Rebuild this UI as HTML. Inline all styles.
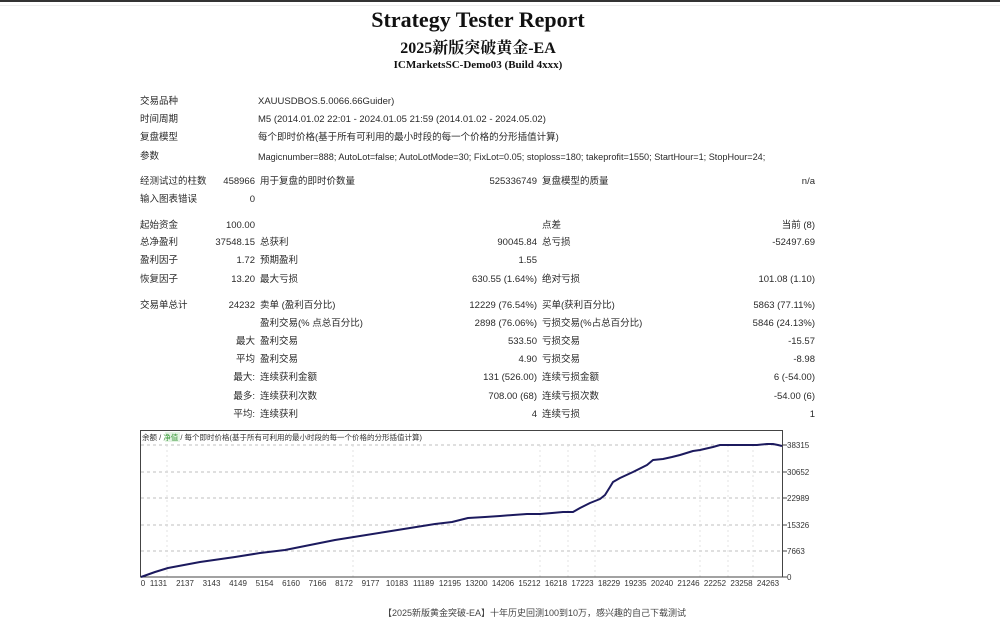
<!DOCTYPE html>
<html><head><meta charset="utf-8">
<style>
html,body{margin:0;padding:0;background:#fff;}
body{width:1000px;height:629px;position:relative;overflow:hidden;font-family:"Liberation Sans","Noto Sans CJK SC",sans-serif;color:#2a2a2a;}
.t{position:absolute;font-size:9.5px;line-height:12px;white-space:nowrap;}
.r{text-align:right;}
.h{position:absolute;left:0;width:956px;text-align:center;font-family:"Liberation Serif","Noto Serif CJK SC","Noto Sans CJK SC",serif;font-weight:bold;color:#111;white-space:nowrap;}
</style></head><body>
<div style="position:absolute;left:0;top:0;width:1000px;height:2px;background:#333;"></div>
<div style="position:absolute;left:0;top:5px;width:1000px;height:1px;background:#eee;"></div>

<div class="h" style="top:6px;font-size:22px;line-height:28px;">Strategy Tester Report</div>
<div class="h" style="top:38px;font-size:16px;line-height:22px;">2025新版突破黄金-EA</div>
<div class="h" style="top:58px;font-size:11px;line-height:14px;">ICMarketsSC-Demo03 (Build 4xxx)</div>

<!-- header info -->
<div class="t" style="left:140px;top:96px;">交易品种</div>
<div class="t" style="left:258px;top:96px;">XAUUSDBOS.5.0066.66Guider)</div>
<div class="t" style="left:140px;top:114px;">时间周期</div>
<div class="t" style="left:258px;top:114px;">M5 (2014.01.02 22:01 - 2024.01.05 21:59 (2014.01.02 - 2024.05.02)</div>
<div class="t" style="left:140px;top:132px;">复盘模型</div>
<div class="t" style="left:258px;top:132px;">每个即时价格(基于所有可利用的最小时段的每一个价格的分形插值计算)</div>
<div class="t" style="left:140px;top:151px;">参数</div>
<div class="t" style="left:258px;top:151px;font-size:9.15px;">Magicnumber=888; AutoLot=false; AutoLotMode=30; FixLot=0.05; stoploss=180; takeprofit=1550; StartHour=1; StopHour=24;</div>

<div class="t" style="left:140px;top:176px;">经测试过的柱数</div>
<div class="t r" style="left:195px;width:60px;top:176px;">458966</div>
<div class="t" style="left:260px;top:176px;">用于复盘的即时价数量</div>
<div class="t r" style="left:437px;width:100px;top:176px;">525336749</div>
<div class="t" style="left:542px;top:176px;">复盘模型的质量</div>
<div class="t r" style="left:715px;width:100px;top:176px;">n/a</div>
<div class="t" style="left:140px;top:194px;">输入图表错误</div>
<div class="t r" style="left:195px;width:60px;top:194px;">0</div>

<!-- stats -->
<div class="t" style="left:140px;top:220px;">起始资金</div>
<div class="t r" style="left:175px;width:80px;top:220px;">100.00</div>
<div class="t" style="left:542px;top:220px;">点差</div>
<div class="t r" style="left:715px;width:100px;top:220px;">当前 (8)</div>

<div class="t" style="left:140px;top:237px;">总净盈利</div>
<div class="t r" style="left:175px;width:80px;top:237px;">37548.15</div>
<div class="t" style="left:260px;top:237px;">总获利</div>
<div class="t r" style="left:437px;width:100px;top:237px;">90045.84</div>
<div class="t" style="left:542px;top:237px;">总亏损</div>
<div class="t r" style="left:715px;width:100px;top:237px;">-52497.69</div>

<div class="t" style="left:140px;top:255px;">盈利因子</div>
<div class="t r" style="left:175px;width:80px;top:255px;">1.72</div>
<div class="t" style="left:260px;top:255px;">预期盈利</div>
<div class="t r" style="left:437px;width:100px;top:255px;">1.55</div>

<div class="t" style="left:140px;top:274px;">恢复因子</div>
<div class="t r" style="left:175px;width:80px;top:274px;">13.20</div>
<div class="t" style="left:260px;top:274px;">最大亏损</div>
<div class="t r" style="left:417px;width:120px;top:274px;">630.55 (1.64%)</div>
<div class="t" style="left:542px;top:274px;">绝对亏损</div>
<div class="t r" style="left:695px;width:120px;top:274px;">101.08 (1.10)</div>

<div class="t" style="left:140px;top:300px;">交易单总计</div>
<div class="t r" style="left:175px;width:80px;top:300px;">24232</div>
<div class="t" style="left:260px;top:300px;">卖单 (盈利百分比)</div>
<div class="t r" style="left:417px;width:120px;top:300px;">12229 (76.54%)</div>
<div class="t" style="left:542px;top:300px;">买单(获利百分比)</div>
<div class="t r" style="left:695px;width:120px;top:300px;">5863 (77.11%)</div>

<div class="t" style="left:260px;top:318px;">盈利交易(% 点总百分比)</div>
<div class="t r" style="left:417px;width:120px;top:318px;">2898 (76.06%)</div>
<div class="t" style="left:542px;top:318px;">亏损交易(%占总百分比)</div>
<div class="t r" style="left:695px;width:120px;top:318px;">5846 (24.13%)</div>

<div class="t r" style="left:175px;width:80px;top:336px;">最大</div>
<div class="t" style="left:260px;top:336px;">盈利交易</div>
<div class="t r" style="left:437px;width:100px;top:336px;">533.50</div>
<div class="t" style="left:542px;top:336px;">亏损交易</div>
<div class="t r" style="left:715px;width:100px;top:336px;">-15.57</div>

<div class="t r" style="left:175px;width:80px;top:354px;">平均</div>
<div class="t" style="left:260px;top:354px;">盈利交易</div>
<div class="t r" style="left:437px;width:100px;top:354px;">4.90</div>
<div class="t" style="left:542px;top:354px;">亏损交易</div>
<div class="t r" style="left:715px;width:100px;top:354px;">-8.98</div>

<div class="t r" style="left:175px;width:80px;top:372px;">最大:</div>
<div class="t" style="left:260px;top:372px;">连续获利金额</div>
<div class="t r" style="left:417px;width:120px;top:372px;">131 (526.00)</div>
<div class="t" style="left:542px;top:372px;">连续亏损金额</div>
<div class="t r" style="left:715px;width:100px;top:372px;">6 (-54.00)</div>

<div class="t r" style="left:175px;width:80px;top:391px;">最多:</div>
<div class="t" style="left:260px;top:391px;">连续获利次数</div>
<div class="t r" style="left:417px;width:120px;top:391px;">708.00 (68)</div>
<div class="t" style="left:542px;top:391px;">连续亏损次数</div>
<div class="t r" style="left:715px;width:100px;top:391px;">-54.00 (6)</div>

<div class="t r" style="left:175px;width:80px;top:409px;">平均:</div>
<div class="t" style="left:260px;top:409px;">连续获利</div>
<div class="t r" style="left:437px;width:100px;top:409px;">4</div>
<div class="t" style="left:542px;top:409px;">连续亏损</div>
<div class="t r" style="left:715px;width:100px;top:409px;">1</div>

<!-- chart -->
<svg style="position:absolute;left:0;top:0;" width="1000" height="629" xmlns="http://www.w3.org/2000/svg">
<g stroke="#aaa" stroke-width="0.8" stroke-dasharray="3,3" fill="none">
<line x1="141" y1="445" x2="783" y2="445"/>
<line x1="141" y1="472" x2="783" y2="472"/>
<line x1="141" y1="498" x2="783" y2="498"/>
<line x1="141" y1="525" x2="783" y2="525"/>
<line x1="141" y1="551" x2="783" y2="551"/>
</g>
<g stroke="#ddd" stroke-width="0.8" stroke-dasharray="2,3" fill="none">
<line x1="167" y1="445" x2="167" y2="577"/>
<line x1="353" y1="445" x2="353" y2="577"/>
<line x1="540" y1="445" x2="540" y2="577"/>
<line x1="568" y1="445" x2="568" y2="577"/>
<line x1="595" y1="445" x2="595" y2="577"/>
<line x1="700" y1="445" x2="700" y2="577"/>
<line x1="728" y1="445" x2="728" y2="577"/>
<line x1="753" y1="445" x2="753" y2="577"/>
</g>
<rect x="140.5" y="430.5" width="642" height="146.5" fill="none" stroke="#444" stroke-width="1"/>
<g stroke="#444" stroke-width="1">
<line x1="783" y1="445" x2="787" y2="445"/>
<line x1="783" y1="472" x2="787" y2="472"/>
<line x1="783" y1="498" x2="787" y2="498"/>
<line x1="783" y1="525" x2="787" y2="525"/>
<line x1="783" y1="551" x2="787" y2="551"/>
<line x1="783" y1="577" x2="787" y2="577"/>
</g>
<polyline fill="none" stroke="#1c1a5e" stroke-width="2" stroke-linejoin="round"
points="141,577 155,572 168,568 200,562 235,557 260,553 285,550 310,545 335,540 360,536 385,532 410,528 435,524 452,522 468,518 485,517 500,516 513,515 527,514 540,514 552,513 563,512 573,512 580,508 590,503 600,499 605,495 610,487 613,482 620,478 633,472 647,465 653,460 663,459 672,457 680,455 693,451 700,450 713,447 720,445 735,445 747,445 757,445 767,444 773,444 778,445 782,446"/>
<g font-family="Liberation Sans, sans-serif" font-size="8" fill="#333">
<text x="787" y="448">38315</text>
<text x="787" y="475">30652</text>
<text x="787" y="501">22989</text>
<text x="787" y="528">15326</text>
<text x="787" y="554">7663</text>
<text x="787" y="580">0</text>
</g>
<g font-family="Liberation Sans, sans-serif" font-size="8" fill="#333" text-anchor="middle">
<text x="143" y="586">0</text>
<text x="158.5" y="586">1131</text>
<text x="185" y="586">2137</text>
<text x="211.5" y="586">3143</text>
<text x="238" y="586">4149</text>
<text x="264.5" y="586">5154</text>
<text x="291" y="586">6160</text>
<text x="317.5" y="586">7166</text>
<text x="344" y="586">8172</text>
<text x="370.5" y="586">9177</text>
<text x="397" y="586">10183</text>
<text x="423.5" y="586">11189</text>
<text x="450" y="586">12195</text>
<text x="476.5" y="586">13200</text>
<text x="503" y="586">14206</text>
<text x="529.5" y="586">15212</text>
<text x="556" y="586">16218</text>
<text x="582.5" y="586">17223</text>
<text x="609" y="586">18229</text>
<text x="635.5" y="586">19235</text>
<text x="662" y="586">20240</text>
<text x="688.5" y="586">21246</text>
<text x="715" y="586">22252</text>
<text x="741.5" y="586">23258</text>
<text x="768" y="586">24263</text>
</g>
<rect x="165" y="432" width="15" height="10" fill="#e4f3e4"/>
<text x="142" y="440" font-family="Liberation Sans, Noto Sans CJK SC, sans-serif" font-size="7.5" fill="#333">余额 / <tspan fill="#3a9a3a">净值</tspan> / 每个即时价格(基于所有可利用的最小时段的每一个价格的分形插值计算)</text>
</svg>

<div class="t" style="left:383px;top:607px;font-size:9px;color:#444;">【2025新版黄金突破-EA】十年历史回测100到10万，感兴趣的自己下载测试</div>
</body></html>
